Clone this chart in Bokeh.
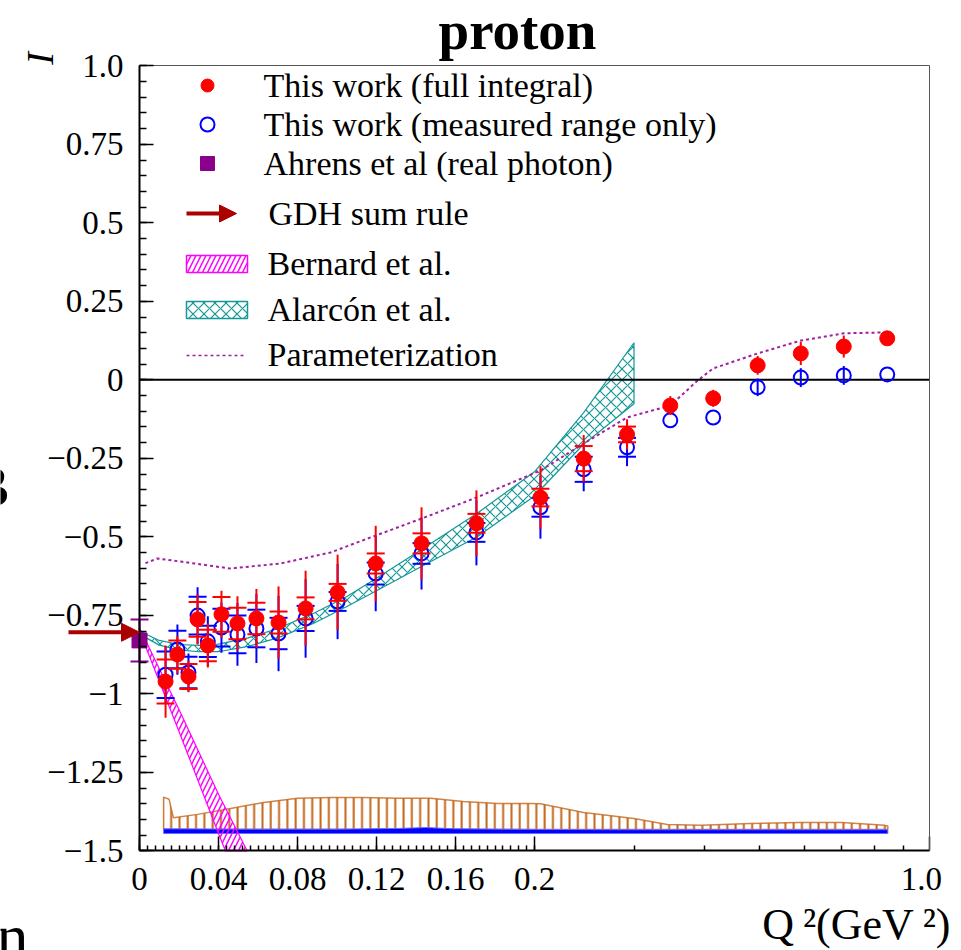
import numpy as np
from bokeh.plotting import figure
from bokeh.models import (Range1d, FixedTicker, Label, Arrow, NormalHead,
                          ColumnDataSource, Whisker, TeeHead, LinearAxis)
from bokeh.embed import file_html
from bokeh.resources import INLINE

# ---------------- data ----------------
q2 = [0.0132, 0.0192, 0.0248, 0.0294, 0.0346, 0.0415, 0.0496, 0.0592, 0.0704,
      0.0841, 0.1003, 0.1196, 0.1428, 0.1706, 0.2049, 0.2444, 0.2916, 0.3478,
      0.4142, 0.4965, 0.5919, 0.7052, 0.8418]

full_I = [-0.961, -0.875, -0.945, -0.763, -0.846, -0.747, -0.776, -0.760, -0.773,
          -0.728, -0.677, -0.585, -0.521, -0.457, -0.375, -0.251, -0.174, -0.082,
          -0.059, 0.046, 0.084, 0.106, 0.132]
full_tot = [0.115, 0.06, 0.05, 0.08, 0.07, 0.075, 0.087, 0.094, 0.115, 0.12, 0.12,
            0.12, 0.115, 0.105, 0.10, 0.075, 0.048, 0.03, 0.027, 0.03, 0.037, 0.035, 0.02]
full_stat = [0.07, 0.045, 0.04, 0.055, 0.05, 0.055, 0.05, 0.05, 0.035, 0.035, 0.027,
             0.032, 0.032, 0.03, 0.028, 0.04, 0.025, 0, 0, 0, 0, 0, 0]

meas_I = [-0.939, -0.859, -0.932, -0.751, -0.833, -0.789, -0.811, -0.792, -0.808,
          -0.760, -0.706, -0.617, -0.553, -0.486, -0.406, -0.285, -0.215, -0.129,
          -0.120, -0.024, 0.007, 0.014, 0.017]
meas_tot = [0.09, 0.08, 0.06, 0.09, 0.08, 0.08, 0.10, 0.11, 0.12, 0.125, 0.12, 0.12,
            0.115, 0.105, 0.10, 0.07, 0.06, 0.0, 0.0, 0.028, 0.03, 0.03, 0.0]
meas_stat = [0.074, 0.06, 0.05, 0.06, 0.05, 0.06, 0.06, 0.06, 0.05, 0.04, 0.03, 0.035,
             0.033, 0.03, 0.03, 0.04, 0.03, 0, 0, 0, 0, 0, 0]

ahrens_q2 = [0.0]
ahrens_I = [-0.830]
ahrens_err = [0.067]

gdh_value = -0.804

# Bernard et al. band, edges read down to where they leave the frame (I = -1.5)
bern_hi_q2 = [0.0, 0.02, 0.04, 0.0545]
bern_hi = [-0.79, -1.05, -1.32, -1.50]
bern_lo_q2 = [0.0, 0.02, 0.04, 0.0435]
bern_lo = [-0.80, -1.12, -1.445, -1.50]

alar_q2 = [0.0, 0.010, 0.020, 0.030, 0.040, 0.055, 0.070, 0.088, 0.105, 0.120,
           0.143, 0.171, 0.200, 0.244, 0.300]
alar_hi = [-0.800, -0.830, -0.843, -0.846, -0.842, -0.822, -0.792, -0.744, -0.690,
           -0.632, -0.540, -0.425, -0.293, -0.106, 0.118]
alar_lo = [-0.810, -0.845, -0.860, -0.866, -0.866, -0.849, -0.822, -0.776, -0.722,
           -0.672, -0.594, -0.500, -0.370, -0.206, -0.076]

par_q2 = [0.003, 0.009, 0.021, 0.046, 0.0714, 0.0967, 0.117, 0.1428, 0.1706, 0.2049,
          0.2444, 0.2916, 0.3478, 0.389, 0.414, 0.4965, 0.5919, 0.7052, 0.8418]
par_I = [-0.584, -0.569, -0.579, -0.601, -0.585, -0.550, -0.502, -0.442, -0.375, -0.289,
         -0.203, -0.120, -0.082, -0.002, 0.036, 0.084, 0.125, 0.148, 0.151]

sysA_q2 = [0.0122, 0.0150, 0.0172, 0.0294, 0.0461, 0.0628, 0.080, 0.0967, 0.1134,
           0.1306, 0.1473, 0.164, 0.1813, 0.198, 0.2049, 0.2444, 0.300, 0.3437,
           0.3947, 0.4815, 0.5876, 0.700, 0.8335, 0.8438]
sysA_top = [-1.329, -1.336, -1.395, -1.384, -1.365, -1.346, -1.333, -1.330, -1.330,
            -1.333, -1.333, -1.343, -1.349, -1.349, -1.350, -1.378, -1.397, -1.416,
            -1.419, -1.413, -1.410, -1.410, -1.419, -1.421]
sysA_base = -1.432

sysB_q2 = [0.0122, 0.05, 0.10, 0.13, 0.145, 0.16, 0.2049, 0.30, 0.50, 0.8438]
sysB_top = [-1.430, -1.431, -1.431, -1.429, -1.426, -1.430, -1.432, -1.433, -1.433, -1.433]
sysB_base = -1.445

x_major = [0.0, 0.04, 0.08, 0.12, 0.16, 0.2, 1.0]
x_major_labels = ["0", "0.04", "0.08", "0.12", "0.16", "0.2", "1.0\u2002"]
x_log_minor = [0.3, 0.4, 0.5, 0.6, 0.7, 0.8, 0.9]
y_major = [1.0, 0.75, 0.5, 0.25, 0.0, -0.25, -0.5, -0.75, -1.0, -1.25, -1.5]
y_major_labels = ["1.0", "0.75", "0.5", "0.25", "0", "\u22120.25", "\u22120.5",
                  "\u22120.75", "\u22121", "\u22121.25", "\u22121.5"]

legend_labels = ["This work (full integral)", "This work (measured range only)",
                 "Ahrens et al (real photon)", "GDH sum rule", "Bernard et al.",
                 "Alarc\u00f3n et al.", "Parameterization"]

X_LO, X_HI = 0.0, 1.0      # Q^2 span of the axes
Y_LO, Y_HI = -1.5, 1.0     # I span of the axes


# ---------------- axis transform: linear 0-0.2, log 0.2-1.0 ----------------
def qmap(q):
    q = np.asarray(q, dtype=float)
    return np.where(q <= 0.2, q,
                    0.2 + 0.2 * np.log10(np.maximum(q, 0.2) / 0.2) / np.log10(5.0))


# pixel -> data helpers, for decorations (legend, titles)
def ux(px):
    return (px - 139) / 1975.0


def vy(py):
    return (379.3 - py) / 314.0


SERIF = "Liberation Serif"
RED = "#ff0000"
BLUE = "#0000ff"
PURPLE = "#8b008b"
DARKRED = "#aa0000"
TEAL = "#139797"
MAGENTA = "#ff00ff"
ORANGE = "#c4661a"
PARCOL = "#a020a0"

W, H = 961, 950
# the frame fills the whole canvas; the axes are placed at fixed data locations
p = figure(width=W, height=H, x_range=Range1d(ux(0), ux(W)), y_range=Range1d(vy(H), vy(0)),
           output_backend="svg", toolbar_location=None, title=None,
           min_border=0, min_border_left=0, min_border_right=0, min_border_top=0,
           min_border_bottom=0)
p.grid.visible = False
p.outline_line_color = None
p.background_fill_color = "white"
p.border_fill_color = "white"

xt = [float(v) for v in qmap(x_major)]
lin_minor = [i * 0.004 for i in range(0, 51)]
xminor = [float(v) for v in lin_minor] + [float(v) for v in qmap(x_log_minor)]
p.xaxis.ticker = FixedTicker(ticks=xt, minor_ticks=xminor)
p.xaxis.major_label_overrides = {t: l for t, l in zip(xt, x_major_labels)}
p.yaxis.ticker = FixedTicker(ticks=y_major,
                             minor_ticks=[round(-1.5 + 0.05 * i, 4) for i in range(51)])
p.yaxis.major_label_overrides = {t: l for t, l in zip(y_major, y_major_labels)}
p.xaxis.fixed_location = Y_LO
p.yaxis.fixed_location = 0.0
u_lo, u_hi = float(qmap(X_LO)), float(qmap(X_HI))
p.xaxis.bounds = (u_lo, u_hi)
p.yaxis.bounds = (Y_LO, Y_HI)

for ax in (p.xaxis[0], p.yaxis[0]):
    ax.axis_line_width = 2
    ax.axis_line_color = "black"
    ax.major_tick_in = 14
    ax.major_tick_out = 0
    ax.minor_tick_in = 7
    ax.minor_tick_out = 0
    ax.major_tick_line_width = 1.5
    ax.minor_tick_line_width = 1.5
    ax.major_label_text_font = SERIF
    ax.major_label_text_font_size = "33px"
    ax.major_label_text_color = "black"
p.xaxis.minor_tick_in = 5
p.xaxis.major_label_standoff = 10
p.yaxis.major_label_standoff = 16

# thin frame lines at top and right
for loc, side, bnds in ((Y_HI, "above", (u_lo, u_hi)), (u_hi, "right", (Y_LO, Y_HI))):
    fa = LinearAxis(fixed_location=loc, bounds=bnds, ticker=FixedTicker(ticks=[]),
                    axis_line_color="#555555", axis_line_width=1,
                    major_tick_in=0, major_tick_out=0, minor_tick_in=0, minor_tick_out=0,
                    major_label_text_font_size="0px")
    p.add_layout(fa, side)

# ---------------- systematic bands at the bottom ----------------
ua = qmap(sysA_q2)
xa = np.concatenate([ua, ua[::-1]])
ya = np.concatenate([sysA_top, [sysA_base] * len(ua)])
p.patch(xa, ya, fill_color=None, line_color=ORANGE, line_width=1.5, line_alpha=0.8,
        hatch_pattern="|", hatch_color=ORANGE, hatch_scale=8.3, hatch_weight=2)

ub = qmap(sysB_q2)
xb = np.concatenate([ub, ub[::-1]])
yb = np.concatenate([sysB_top, [sysB_base] * len(ub)])
p.patch(xb, yb, fill_color=BLUE, line_color="#6a6aff", line_width=1)

# ---------------- theory bands ----------------
p.patch(np.concatenate([qmap(bern_hi_q2), qmap(bern_lo_q2)[::-1]]),
        np.concatenate([bern_hi, bern_lo[::-1]]),
        fill_color=None, line_color=MAGENTA, line_width=1.2,
        hatch_pattern="/", hatch_color=MAGENTA, hatch_scale=10, hatch_weight=1.5)

ual = qmap(alar_q2)
p.patch(np.concatenate([ual, ual[::-1]]), np.concatenate([alar_hi, alar_lo[::-1]]),
        fill_color=None, line_color=TEAL, line_width=1.2,
        hatch_pattern="x", hatch_color=TEAL, hatch_scale=11, hatch_weight=1.2)

p.line(qmap(par_q2), par_I, line_color=PARCOL, line_width=2, line_dash="3 3")

# I = 0 line across the axes
p.segment([u_lo], [0.0], [u_hi], [0.0], line_color="black", line_width=2)

# ---------------- data points ----------------
uq = qmap(q2)


def draw_points(vals, tot, stat, color, filled, size):
    vals = np.asarray(vals)
    tot = np.asarray(tot)
    stat = np.asarray(stat)
    m = tot > 0
    p.segment(uq[m], vals[m] - tot[m], uq[m], vals[m] + tot[m],
              line_color=color, line_width=2)
    s = stat > 0
    p.scatter(np.concatenate([uq[s], uq[s]]),
              np.concatenate([vals[s] - stat[s], vals[s] + stat[s]]),
              marker="dash", size=18, line_color=color, line_width=2)
    if filled:
        p.scatter(uq, vals, marker="circle", size=size, fill_color=color,
                  line_color=color)
    else:
        p.scatter(uq, vals, marker="circle", size=size, fill_color=None,
                  line_color=color, line_width=2)


draw_points(meas_I, meas_tot, meas_stat, BLUE, False, 14)
draw_points(full_I, full_tot, full_stat, RED, True, 15)

# GDH sum-rule arrow (drawn first so the Ahrens square sits on top)
p.add_layout(Arrow(x_start=ux(68), y_start=gdh_value, x_end=0.0, y_end=gdh_value,
                   line_color=DARKRED, line_width=4,
                   end=NormalHead(size=18, fill_color=DARKRED, line_color=DARKRED,
                                  line_width=1)))

# Ahrens real photon point
asrc = ColumnDataSource(dict(x=qmap(ahrens_q2), lo=np.array(ahrens_I) - np.array(ahrens_err),
                             hi=np.array(ahrens_I) + np.array(ahrens_err)))
p.add_layout(Whisker(source=asrc, base="x", upper="hi", lower="lo", dimension="height",
                     line_color=PURPLE, line_width=2,
                     upper_head=TeeHead(size=18, line_color=PURPLE, line_width=2),
                     lower_head=TeeHead(size=18, line_color=PURPLE, line_width=2)))
p.scatter(qmap(ahrens_q2), ahrens_I, marker="square", size=15, fill_color=PURPLE,
          line_color=PURPLE)

# ---------------- legend (drawn by hand) ----------------
rows = [85, 124, 163, 213, 263, 309, 354]
text_x = [263, 263, 263, 268, 267, 267, 267]
p.scatter([ux(207)], [vy(rows[0])], marker="circle", size=13, fill_color=RED, line_color=RED)
p.scatter([ux(207)], [vy(rows[1])], marker="circle", size=14, fill_color=None,
          line_color=BLUE, line_width=2)
p.scatter([ux(207)], [vy(rows[2])], marker="square", size=14, fill_color=PURPLE,
          line_color=PURPLE)
p.add_layout(Arrow(x_start=ux(186), y_start=vy(rows[3]), x_end=ux(236), y_end=vy(rows[3]),
                   line_color=DARKRED, line_width=4,
                   end=NormalHead(size=17, fill_color=DARKRED, line_color=DARKRED,
                                  line_width=1)))
p.quad(left=[ux(186)], right=[ux(247)], top=[vy(rows[4] - 8)], bottom=[vy(rows[4] + 9)],
       fill_color=None, line_color=MAGENTA, line_width=1.5,
       hatch_pattern="/", hatch_color=MAGENTA, hatch_scale=10, hatch_weight=1.5)
p.quad(left=[ux(186)], right=[ux(247)], top=[vy(rows[5] - 8)], bottom=[vy(rows[5] + 9)],
       fill_color=None, line_color=TEAL, line_width=1.5,
       hatch_pattern="x", hatch_color=TEAL, hatch_scale=11, hatch_weight=1.2)
p.line([ux(186), ux(246)], [vy(rows[6] + 1)] * 2, line_color=PARCOL, line_width=1.5,
       line_dash="3 3")

for r, tx, txt in zip(rows, text_x, legend_labels):
    p.add_layout(Label(x=ux(tx), y=vy(r), text=txt, text_font=SERIF,
                       text_font_size="34px", text_baseline="middle", text_align="left",
                       text_color="black"))

# ---------------- titles ----------------
p.add_layout(Label(x=ux(517), y=vy(30), text="proton", text_font=SERIF,
                   text_font_size="55px", text_font_style="bold", text_align="center",
                   text_baseline="middle", text_color="black"))
p.add_layout(Label(x=ux(39), y=vy(58), text="I", text_font=SERIF,
                   text_font_size="38px", text_font_style="italic", angle=np.pi / 2,
                   text_align="center", text_baseline="middle", text_color="black"))
p.add_layout(Label(x=ux(950), y=vy(924), text="Q\u2009\u00b2(GeV\u2009\u00b2)",
                   text_font=SERIF, text_font_size="44px", text_align="right",
                   text_baseline="middle", text_color="black"))
# fragments of neighbouring panels at the left edge
p.add_layout(Label(x=ux(8), y=vy(486), text="B", text_font=SERIF,
                   text_font_size="56px", text_font_style="bold", text_align="right",
                   text_baseline="middle", text_color="black"))
p.add_layout(Label(x=ux(28), y=vy(936), text="n", text_font=SERIF,
                   text_font_size="64px", text_align="right", text_baseline="alphabetic",
                   text_color="black"))

open("out.html", "w").write(file_html(p, INLINE))
